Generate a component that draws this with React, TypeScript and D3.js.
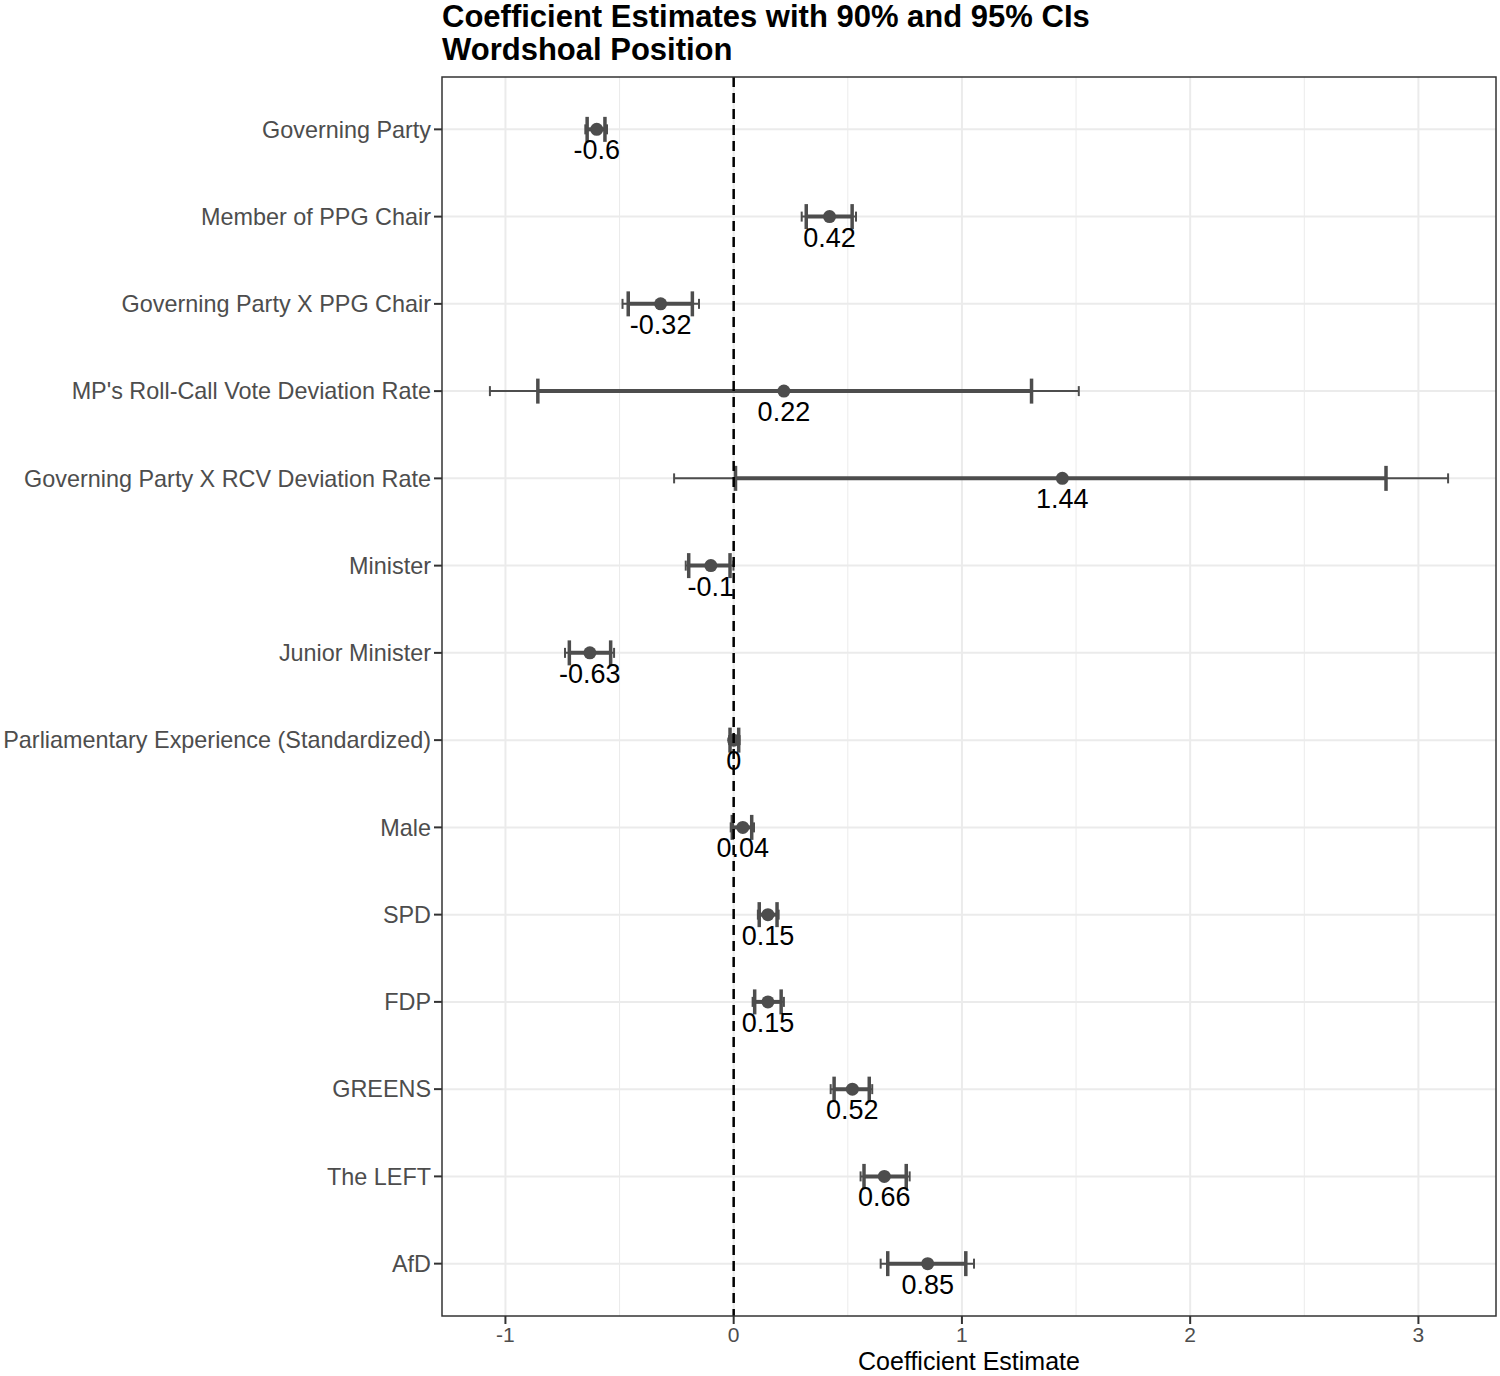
import React from 'react';
import * as d3 from 'd3';

// coefficient plot: point estimate, 90% CI (thick) and 95% CI (thin)
const terms = [
  'Governing Party',
  'Member of PPG Chair',
  'Governing Party X PPG Chair',
  "MP's Roll-Call Vote Deviation Rate",
  'Governing Party X RCV Deviation Rate',
  'Minister',
  'Junior Minister',
  'Parliamentary Experience (Standardized)',
  'Male',
  'SPD',
  'FDP',
  'GREENS',
  'The LEFT',
  'AfD',
];
const estimates = [-0.6, 0.42, -0.32, 0.22, 1.44, -0.1, -0.63, 0, 0.04, 0.15, 0.15, 0.52, 0.66, 0.85];
const lo90 = [-0.642, 0.318, -0.462, -0.858, 0.008, -0.197, -0.72, -0.016, -0.006, 0.112, 0.092, 0.44, 0.571, 0.675];
const hi90 = [-0.564, 0.519, -0.181, 1.305, 2.858, -0.016, -0.539, 0.022, 0.079, 0.19, 0.208, 0.594, 0.756, 1.017];
const lo95 = [-0.65, 0.298, -0.487, -1.068, -0.261, -0.21, -0.739, -0.02, -0.013, 0.106, 0.083, 0.425, 0.556, 0.644];
const hi95 = [-0.555, 0.536, -0.152, 1.512, 3.13, -0.001, -0.524, 0.026, 0.089, 0.197, 0.22, 0.607, 0.771, 1.053];
const xTicks = [-1, 0, 1, 2, 3];

const rows = terms.map((term, i) => ({
  term,
  est: estimates[i],
  lo90: lo90[i],
  hi90: hi90[i],
  lo95: lo95[i],
  hi95: hi95[i],
}));

const W = 1500;
const H = 1376;
const margin = { top: 77, right: 4, bottom: 60, left: 442 };
const FONT = "'Liberation Sans', Arial, sans-serif";
const INK = '#4d4d4d';

const App: React.FC = () => {
  const left = margin.left;
  const right = W - margin.right;
  const top = margin.top;
  const bottom = H - margin.bottom;

  // ggplot-like 5% expansion of the data range
  const lo = d3.min(lo95) as number;
  const hi = d3.max(hi95) as number;
  const pad = (hi - lo) * 0.05;
  const x = d3.scaleLinear().domain([lo - pad, hi + pad]).range([left, right]);

  const y = d3.scalePoint<string>().domain(terms).range([top, bottom]).padding(0.6);

  const minor = d3.range(-1.5, 3.5, 1).filter(v => v > x.domain()[0] && v < x.domain()[1]);
  const fmt = (v: number) => String(+v.toFixed(2));

  return (
    <svg width={W} height={H} style={{ position: 'absolute', left: 0, top: 0, background: '#fff' }} fontFamily={FONT}>
      {/* title */}
      <text x={left} y={27} fontSize={31} fontWeight="bold" fill="#000">Coefficient Estimates with 90% and 95% CIs</text>
      <text x={left} y={60} fontSize={31} fontWeight="bold" fill="#000">Wordshoal Position</text>

      {/* grid */}
      {minor.map(v => (
        <line key={'mn' + v} x1={x(v)} x2={x(v)} y1={top} y2={bottom} stroke="#ebebeb" strokeWidth={1} />
      ))}
      {xTicks.map(v => (
        <line key={'mj' + v} x1={x(v)} x2={x(v)} y1={top} y2={bottom} stroke="#ebebeb" strokeWidth={2} />
      ))}
      {terms.map(t => (
        <line key={'hg' + t} x1={left} x2={right} y1={y(t)} y2={y(t)} stroke="#ebebeb" strokeWidth={2} />
      ))}

      {/* 95% intervals */}
      {rows.map(d => {
        const yy = y(d.term) as number;
        return (
          <g key={'e95' + d.term} stroke={INK} strokeWidth={2}>
            <line x1={x(d.lo95)} x2={x(d.hi95)} y1={yy} y2={yy} />
            <line x1={x(d.lo95)} x2={x(d.lo95)} y1={yy - 5} y2={yy + 5} />
            <line x1={x(d.hi95)} x2={x(d.hi95)} y1={yy - 5} y2={yy + 5} />
          </g>
        );
      })}

      {/* 90% intervals */}
      {rows.map(d => {
        const yy = y(d.term) as number;
        return (
          <g key={'e90' + d.term} stroke={INK} strokeWidth={3.5}>
            <line x1={x(d.lo90)} x2={x(d.hi90)} y1={yy} y2={yy} strokeWidth={4} />
            <line x1={x(d.lo90)} x2={x(d.lo90)} y1={yy - 12.5} y2={yy + 12.5} />
            <line x1={x(d.hi90)} x2={x(d.hi90)} y1={yy - 12.5} y2={yy + 12.5} />
          </g>
        );
      })}

      {/* estimates */}
      {rows.map(d => (
        <circle key={'pt' + d.term} cx={x(d.est)} cy={y(d.term)} r={6.5} fill={INK} />
      ))}
      {rows.map(d => (
        <text key={'lb' + d.term} x={x(d.est)} y={(y(d.term) as number) + 30} fontSize={27} textAnchor="middle" fill="#000">
          {fmt(d.est)}
        </text>
      ))}

      {/* zero reference line */}
      <line x1={x(0)} x2={x(0)} y1={top} y2={bottom} stroke="#000" strokeWidth={2.5} strokeDasharray="10,6" />

      {/* panel border */}
      <rect x={left} y={top} width={right - left} height={bottom - top} fill="none" stroke="#333" strokeWidth={1.5} />

      {/* y axis */}
      {terms.map(t => (
        <g key={'yt' + t}>
          <line x1={left - 8} x2={left} y1={y(t)} y2={y(t)} stroke="#333" strokeWidth={2} />
          <text x={left - 11} y={y(t)} dy="0.35em" fontSize={23.4} textAnchor="end" fill={INK}>{t}</text>
        </g>
      ))}

      {/* x axis */}
      {xTicks.map(v => (
        <g key={'xt' + v}>
          <line x1={x(v)} x2={x(v)} y1={bottom} y2={bottom + 8} stroke="#333" strokeWidth={2} />
          <text x={x(v)} y={bottom + 26} fontSize={21} textAnchor="middle" fill={INK}>{v}</text>
        </g>
      ))}
      <text x={(left + right) / 2} y={H - 6} fontSize={25} textAnchor="middle" fill="#000">Coefficient Estimate</text>
    </svg>
  );
};

export default App;
